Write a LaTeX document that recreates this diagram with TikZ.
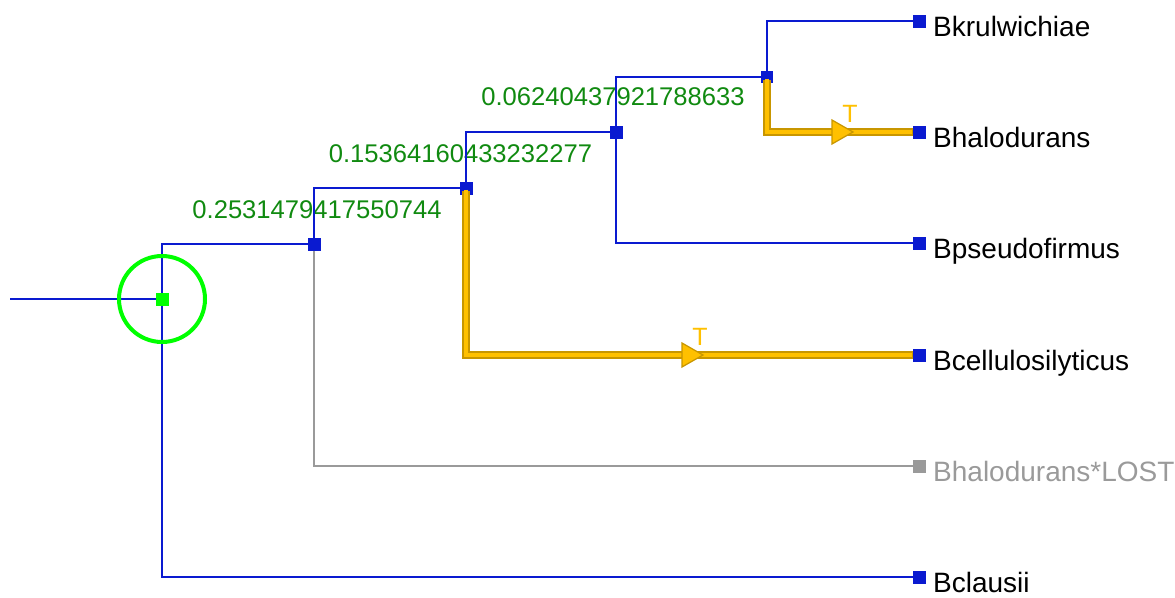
\documentclass[tikz,border=0pt]{standalone}
\usepackage{fontspec}
\setmainfont{Liberation Sans}
\usetikzlibrary{calc}
\definecolor{tblue}{HTML}{0A1AD0}
\definecolor{tgreen}{HTML}{00FF00}
\definecolor{lblgreen}{HTML}{108A10}
\definecolor{tgray}{HTML}{9A9A9A}
\definecolor{gold}{HTML}{FFC000}
\definecolor{golddark}{HTML}{C89600}
\tikzset{
  inner/.style={rectangle, fill=tblue, minimum size=13pt, inner sep=0pt},
  leaf/.style={rectangle, fill=tblue, minimum size=13pt, inner sep=0pt},
  lostleaf/.style={rectangle, fill=tgray, minimum size=13pt, inner sep=0pt},
  rootbox/.style={rectangle, fill=tgreen, minimum size=13pt, inner sep=0pt},
  edge/.style={draw=tblue, line width=2pt},
  lostedge/.style={draw=tgray, line width=2pt},
  goldouter/.style={draw=golddark, line width=8pt, line cap=butt, line join=miter},
  goldinner/.style={draw=gold, line width=4.5pt, line cap=butt, line join=miter},
  leaflabel/.style={anchor=base west, inner sep=0pt, font=\fontsize{28}{30}\selectfont, text=black},
  lostlabel/.style={anchor=base west, inner sep=0pt, font=\fontsize{28}{30}\selectfont, text=tgray},
  numlabel/.style={anchor=base, inner sep=0pt, font=\fontsize{25.6}{27}\selectfont, text=lblgreen},
  tlabel/.style={anchor=base, inner sep=0pt, font=\fontsize{25}{27}\selectfont, text=gold},
  tri/.style={fill=gold, draw=golddark, line width=1.2pt, line join=miter}
}
\begin{document}
\begin{tikzpicture}[x=1pt,y=-1pt]
\useasboundingbox (0,0) rectangle (1175,597);
% coordinates
\coordinate (start) at (10,299);
% number labels (drawn below the lines)
\node[numlabel] (n1) at (317,218) {0.2531479417550744};
\node[numlabel] (n2) at (460.5,162) {0.15364160433232277};
\node[numlabel] (n3) at (613,105) {0.06240437921788633};
% node positions
\coordinate (R) at (162,299);
\coordinate (A) at (314,244);
\coordinate (B) at (466,188);
\coordinate (C) at (616,132);
\coordinate (D) at (767,77);
\coordinate (L1) at (919.5,21);
\coordinate (L2) at (919.5,132);
\coordinate (L3) at (919.5,243);
\coordinate (L4) at (919.5,355);
\coordinate (L5) at (919.5,466);
\coordinate (L6) at (919.5,577);
% edges
\draw[edge] (start) -- (R);
\draw[edge] (R) |- (A);
\draw[edge] (R) |- (L6);
\draw[edge] (A) |- (B);
\draw[lostedge] (A) |- (L5);
\draw[edge] (B) |- (C);
\draw[edge] (C) |- (D);
\draw[edge] (C) |- (L3);
\draw[edge] (D) |- (L1);
% squares
\node[rootbox] (r) at (R) {};
\node[inner] (a) at (A) {};
\node[inner] (b) at (B) {};
\node[inner] (c) at (C) {};
\node[inner, minimum size=12pt] (d) at (D) {};
\node[leaf] (l1) at (L1) {};
\node[leaf] (l2) at (L2) {};
\node[leaf] (l3) at (L3) {};
\node[leaf] (l4) at (L4) {};
\node[lostleaf] (l5) at (L5) {};
\node[leaf] (l6) at (L6) {};
% gold edges
\draw[goldouter] ([yshift=-3pt]b.center) |- (l4.west);
\draw[goldinner] ([yshift=-1.5pt]b.center) |- ([xshift=-1pt]l4.west);
\draw[goldouter] ([yshift=-3pt]d.center) |- (l2.west);
\draw[goldinner] ([yshift=-1.5pt]d.center) |- ([xshift=-1pt]l2.west);
% triangles
\draw[tri] (682,343) -- (703,355) -- (682,367) -- cycle;
\draw[tri] (832,120) -- (853,132) -- (832,144) -- cycle;
\node[tlabel] (t1) at (700,345) {T};
\node[tlabel] (t2) at (850,122) {T};
% root circle
\draw[tgreen, line width=4pt] (R) circle (43);
% leaf labels
\node[leaflabel] (k1) at ($(l1)+(13.5,15)$) {Bkrulwichiae};
\node[leaflabel] (k2) at ($(l2)+(13.5,15)$) {Bhalodurans};
\node[leaflabel] (k3) at ($(l3)+(13.5,15)$) {Bpseudofirmus};
\node[leaflabel] (k4) at ($(l4)+(13.5,15)$) {Bcellulosilyticus};
\node[lostlabel] (k5) at ($(l5)+(13.5,15)$) {Bhalodurans*LOST};
\node[leaflabel] (k6) at ($(l6)+(13.5,15)$) {Bclausii};
\end{tikzpicture}
\end{document}
